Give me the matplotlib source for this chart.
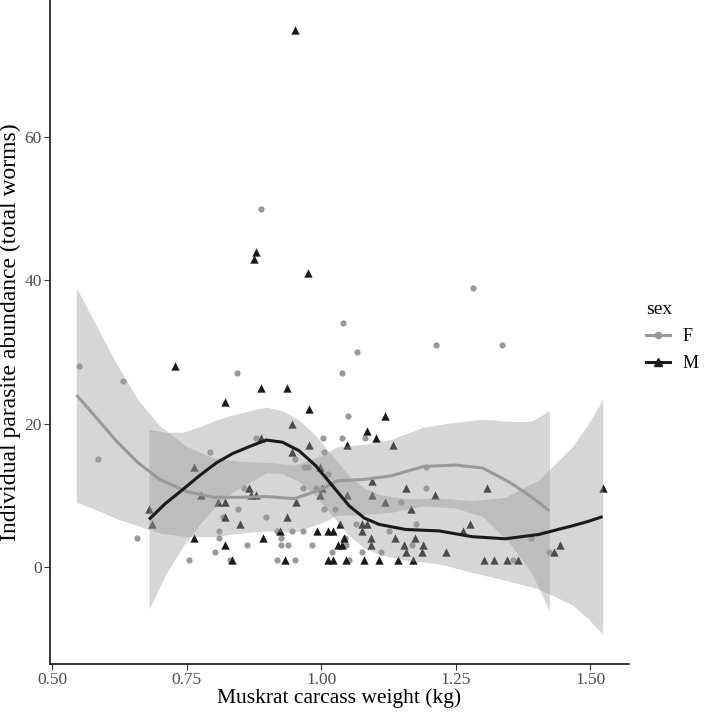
import matplotlib
matplotlib.use("Agg")
import matplotlib.pyplot as plt
from matplotlib.lines import Line2D
from matplotlib.legend_handler import HandlerTuple

# ---- data ----
f_weight = [0.550, 0.586, 0.632, 0.658, 0.754, 0.794, 0.803, 0.810, 0.810, 0.817,
            0.830, 0.843, 0.845, 0.857, 0.863, 0.879, 0.889, 0.898, 0.917, 0.917,
            0.925, 0.925, 0.938, 0.945, 0.951, 0.951, 0.967, 0.967, 0.968, 0.975,
            0.983, 0.990, 1.004, 1.005, 1.005, 1.013, 1.020, 1.026, 1.038, 1.038,
            1.040, 1.045, 1.046, 1.050, 1.052, 1.064, 1.067, 1.075, 1.081, 1.112,
            1.126, 1.148, 1.168, 1.176, 1.194, 1.194, 1.214, 1.282, 1.336, 1.356,
            1.389, 1.424]
f_worms = [28, 15, 26, 4, 1, 16, 2, 5, 4, 7,
           1, 27, 8, 11, 3, 18, 50, 7, 5, 1,
           4, 3, 3, 5, 15, 1, 5, 11, 14, 14,
           3, 11, 18, 16, 8, 13, 2, 8, 27, 18,
           34, 4, 3, 21, 1, 6, 30, 2, 18, 2,
           5, 9, 3, 6, 14, 11, 31, 39, 31, 1,
           4, 2]

m_weight = [0.680, 0.686, 0.728, 0.763, 0.763, 0.776, 0.808, 0.822, 0.822, 0.822,
            0.822, 0.835, 0.849, 0.865, 0.869, 0.878, 0.876, 0.878, 0.889, 0.889,
            0.891, 0.924, 0.932, 0.937, 0.937, 0.945, 0.945, 0.951, 0.953, 0.975,
            0.977, 0.978, 0.993, 0.997, 0.997, 1.001, 1.012, 1.012, 1.021, 1.022,
            1.031, 1.035, 1.038, 1.043, 1.046, 1.048, 1.048, 1.076, 1.076, 1.079,
            1.085, 1.085, 1.093, 1.093, 1.095, 1.095, 1.101, 1.107, 1.119, 1.119,
            1.133, 1.138, 1.143, 1.153, 1.157, 1.157, 1.167, 1.171, 1.174, 1.187,
            1.189, 1.211, 1.231, 1.264, 1.276, 1.302, 1.308, 1.322, 1.346, 1.365,
            1.432, 1.444, 1.523]
m_worms = [8, 6, 28, 14, 4, 10, 9, 9, 23, 7,
           3, 1, 6, 11, 10, 10, 43, 44, 25, 18,
           4, 5, 1, 25, 7, 20, 16, 75, 9, 41,
           22, 17, 5, 14, 10, 11, 5, 1, 5, 1,
           3, 6, 3, 4, 1, 17, 10, 6, 5, 1,
           19, 6, 4, 3, 12, 10, 18, 1, 21, 9,
           17, 4, 1, 3, 11, 2, 8, 1, 4, 2,
           3, 10, 2, 5, 6, 1, 11, 1, 1, 1,
           2, 3, 11]

# loess fits with confidence bands
f_fit_x = [0.545, 0.58, 0.62, 0.66, 0.70, 0.75, 0.80, 0.85, 0.90, 0.95,
           1.00, 1.03, 1.08, 1.13, 1.19, 1.25, 1.30, 1.35, 1.39, 1.424]
f_fit = [24.0, 21.0, 17.5, 14.5, 12.2, 10.5, 9.7, 9.7, 9.8, 9.5,
         10.8, 12.0, 12.2, 12.7, 14.0, 14.2, 13.8, 11.8, 9.8, 7.8]
f_lo = [9.0, 8.0, 6.7, 5.7, 4.7, 4.2, 4.2, 4.7, 5.0, 4.8,
        6.1, 7.2, 7.3, 7.6, 8.5, 8.2, 7.0, 3.3, -0.7, -6.2]
f_hi = [39.0, 34.0, 28.3, 23.3, 19.7, 16.8, 15.2, 14.7, 14.6, 14.2,
        15.5, 16.8, 17.1, 17.8, 19.5, 20.2, 20.6, 20.3, 20.3, 21.8]

m_fit_x = [0.680, 0.71, 0.743, 0.775, 0.805, 0.835, 0.867, 0.898, 0.928, 0.959,
           0.990, 1.021, 1.052, 1.08, 1.108, 1.157, 1.219, 1.280, 1.342, 1.404,
           1.466, 1.495, 1.523]
m_fit = [6.6, 8.8, 10.8, 12.8, 14.5, 15.8, 16.8, 17.7, 17.4, 16.2,
         14.1, 11.3, 8.5, 6.8, 5.9, 5.2, 5.0, 4.2, 3.9, 4.5,
         5.7, 6.3, 7.0]
m_lo = [-6.0, -1.2, 2.8, 6.0, 8.5, 10.4, 11.8, 13.1, 13.0, 11.9,
        9.9, 7.1, 4.3, 2.6, 1.7, 0.9, 0.4, -0.8, -1.9, -3.1,
        -5.3, -7.2, -9.4]
m_hi = [19.2, 18.8, 18.8, 19.6, 20.5, 21.2, 21.8, 22.3, 21.8, 20.5,
        18.3, 15.5, 12.7, 11.0, 10.1, 9.5, 9.6, 9.2, 9.7, 12.1,
        16.7, 19.8, 23.4]

x_ticks = [0.50, 0.75, 1.00, 1.25, 1.50]
y_ticks = [0, 20, 40, 60]

# ---- plot ----
plt.rcParams['font.family'] = ['Liberation Serif', 'DejaVu Serif']

F_COL = '#999999'
M_COL = '#1a1a1a'

fig = plt.figure(figsize=(7.07, 7.13), dpi=100)
ax = fig.add_axes([50 / 707, 49 / 713, 579 / 707, 664 / 713])

# points first, ribbons drawn over them (as ggplot does)
ax.scatter(f_weight, f_worms, s=20, marker='o', color=F_COL, linewidths=0, zorder=1)
ax.scatter(m_weight, m_worms, s=36, marker='^', color=M_COL, linewidths=0, zorder=1)

ax.fill_between(f_fit_x, f_lo, f_hi, color='#999999', alpha=0.4, linewidth=0, zorder=2)
ax.fill_between(m_fit_x, m_lo, m_hi, color='#999999', alpha=0.4, linewidth=0, zorder=2)
ax.plot(f_fit_x, f_fit, color=F_COL, lw=2.2, solid_capstyle='butt', zorder=3)
ax.plot(m_fit_x, m_fit, color=M_COL, lw=2.2, solid_capstyle='butt', zorder=3)

ax.set_xlim(0.496, 1.572)
ax.set_ylim(-13.6, 79.2)
ax.set_xticks(x_ticks)
ax.set_xticklabels([f'{t:.2f}' for t in x_ticks])
ax.set_yticks(y_ticks)

for side in ['top', 'right']:
    ax.spines[side].set_visible(False)
for side in ['left', 'bottom']:
    ax.spines[side].set_linewidth(1.1)
    ax.spines[side].set_color('black')
ax.tick_params(length=4, width=0.8, color='#333333', labelsize=12.5,
               labelcolor='#4d4d4d', pad=2)

ax.set_xlabel('Muskrat carcass weight (kg)', fontsize=15.5)
ax.set_ylabel('Individual parasite abundance (total worms)', fontsize=17)
ax.xaxis.set_label_coords(0.5, -0.036)
ax.yaxis.set_label_coords(-0.050, 0.5)

# legend
hf = (Line2D([], [], color=F_COL, lw=2.2),
      Line2D([], [], color=F_COL, marker='o', markersize=4.5, lw=0))
hm = (Line2D([], [], color=M_COL, lw=2.2),
      Line2D([], [], color=M_COL, marker='^', markersize=6, lw=0))
leg = fig.legend([hf, hm], ['F', 'M'], title='sex',
                 handler_map={tuple: HandlerTuple(ndivide=1)},
                 loc='upper left', bbox_to_anchor=(630 / 707, 1 - 285 / 713),
                 frameon=False, fontsize=13, title_fontsize=14,
                 handlelength=1.3, handletextpad=0.7, labelspacing=0.55)
leg._legend_box.align = 'left'

fig.savefig('out.png', dpi=100)
